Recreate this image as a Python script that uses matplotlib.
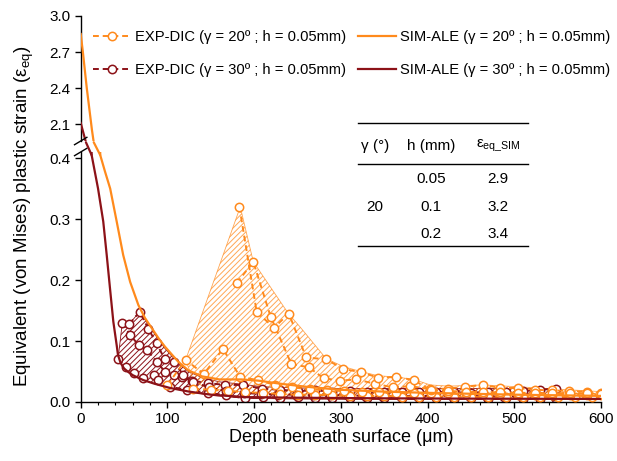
import matplotlib
matplotlib.use("Agg")
import matplotlib.pyplot as plt
from matplotlib.patches import ConnectionPatch
from matplotlib.lines import Line2D
from matplotlib.ticker import MultipleLocator

# ── Colours ───────────────────────────────────────────────────────
ORANGE  = "#FF8A1C"
DARKRED = "#8C1218"

# ── Data ──────────────────────────────────────────────────────────
# SIM-ALE curves (same arrays drawn in both halves of the broken axis)
sim20_x = [0, 2.5, 7, 13, 15, 22.5, 28, 34, 41.5, 49, 57, 66.5, 74, 82, 90, 97,
           105, 112.5, 124, 140, 160, 185, 205, 230, 260, 300, 350, 400, 500, 600]
sim20_y = [2.85, 2.70, 2.40, 2.05, 1.95, 0.405, 0.378, 0.350, 0.296, 0.241, 0.197,
           0.159, 0.138, 0.121, 0.104, 0.091, 0.078, 0.066, 0.052, 0.042, 0.037,
           0.037, 0.035, 0.030, 0.025, 0.020, 0.017, 0.015, 0.012, 0.010]

sim30_x = [0, 3, 6, 12.6, 20, 26, 30, 33.8, 37.6, 41.5, 43, 46, 50, 55, 60, 72, 85,
           103, 125, 150, 190, 250, 350, 450, 600]
sim30_y = [2.11, 2.03, 1.95, 0.405, 0.350, 0.296, 0.241, 0.186, 0.132, 0.093,
           0.077, 0.064, 0.055, 0.049, 0.044, 0.036, 0.030, 0.023, 0.017, 0.012,
           0.008, 0.007, 0.006, 0.0055, 0.005]

# EXP-DIC profiles, gamma = 20
exp20_a_x = [100, 121, 142, 164, 184, 204, 224, 244, 264, 284, 304, 324, 344, 364,
             384, 404, 424, 444, 464, 484, 504, 524, 544, 564, 584, 600]
exp20_a_y = [0.028, 0.069, 0.046, 0.087, 0.041, 0.036, 0.028, 0.024, 0.021, 0.019,
             0.018, 0.017, 0.016, 0.015, 0.015, 0.014, 0.014, 0.013, 0.013, 0.013,
             0.012, 0.012, 0.012, 0.011, 0.011, 0.011]
exp20_b_x = [180, 199, 219, 243, 263, 280, 299, 318, 339, 360, 380, 403, 424, 443,
             464, 484, 504, 524, 544, 563, 584, 600]
exp20_b_y = [0.195, 0.230, 0.140, 0.062, 0.057, 0.039, 0.035, 0.037, 0.030, 0.024,
             0.026, 0.021, 0.022, 0.025, 0.028, 0.023, 0.023, 0.020, 0.019, 0.018,
             0.017, 0.015]
exp20_c_x = [183, 203, 223, 240, 260, 283, 303, 323, 343, 364, 384, 404, 424, 444,
             464, 484, 504, 524, 544, 564, 584, 600]
exp20_c_y = [0.320, 0.147, 0.122, 0.145, 0.073, 0.070, 0.054, 0.049, 0.040, 0.041,
             0.036, 0.019, 0.018, 0.017, 0.016, 0.016, 0.015, 0.015, 0.014, 0.015,
             0.014, 0.013]
exp20_d_x = [130, 150, 170, 190, 210, 230, 250, 270, 290, 310, 330, 350, 370, 390,
             410, 430, 450, 470, 490, 510, 530, 550, 570, 590]
exp20_d_y = [0.022, 0.020, 0.018, 0.016, 0.015, 0.013, 0.012, 0.012, 0.011, 0.010,
             0.010, 0.010, 0.009, 0.009, 0.009, 0.009, 0.008, 0.008, 0.008, 0.008,
             0.008, 0.008, 0.008, 0.008]

# EXP-DIC profiles, gamma = 30
exp30_a_x = [43, 52, 62, 72, 84.6, 89.5, 103, 122, 147, 168, 189.5, 210, 230, 250,
             270, 290, 310, 330, 350, 370, 390, 410, 430, 450, 470, 490, 510, 530, 548]
exp30_a_y = [0.070, 0.058, 0.047, 0.040, 0.044, 0.036, 0.025, 0.020, 0.015, 0.011,
             0.006, 0.008, 0.007, 0.008, 0.006, 0.007, 0.006, 0.007, 0.006, 0.006,
             0.006, 0.006, 0.005, 0.006, 0.005, 0.006, 0.005, 0.005, 0.005]
exp30_b_x = [48, 57, 67, 77, 87.5, 97, 107.6, 116.5, 128, 147, 166, 186.6, 208.8,
             230, 250, 270, 290, 310, 330, 350, 370, 390, 410, 430, 450, 470, 490,
             510, 530, 548]
exp30_b_y = [0.130, 0.110, 0.093, 0.085, 0.066, 0.050, 0.044, 0.041, 0.035, 0.031,
             0.028, 0.028, 0.022, 0.020, 0.018, 0.019, 0.017, 0.018, 0.016, 0.017,
             0.016, 0.017, 0.016, 0.016, 0.015, 0.017, 0.016, 0.018, 0.020, 0.022]
exp30_c_x = [56, 68, 78, 87.5, 97, 107.6, 118, 130, 148, 168, 188, 208, 228, 248,
             268, 288, 308, 328, 348, 368, 388, 408, 428, 448, 468, 488, 508, 528, 546]
exp30_c_y = [0.128, 0.148, 0.120, 0.096, 0.070, 0.066, 0.045, 0.033, 0.024, 0.018,
             0.015, 0.013, 0.012, 0.012, 0.011, 0.011, 0.011, 0.010, 0.010, 0.010,
             0.010, 0.010, 0.010, 0.010, 0.009, 0.009, 0.010, 0.010, 0.010]

# scatter envelopes (hatched bands)
env20_up_x = [121, 184, 199, 239.5, 253, 283, 303, 323, 343, 364, 384, 403, 424,
              464, 504, 563, 600]
env20_up_y = [0.069, 0.320, 0.230, 0.145, 0.123, 0.071, 0.058, 0.050, 0.043, 0.041,
              0.037, 0.028, 0.026, 0.028, 0.025, 0.020, 0.017]
env20_lo_x = [121, 130, 142, 160, 200, 250, 300, 400, 500, 600]
env20_lo_y = [0.069, 0.035, 0.025, 0.020, 0.015, 0.012, 0.010, 0.009, 0.008, 0.008]

env30_up_x = [43, 48, 56, 68, 82, 97, 112, 124, 140, 160, 187, 209, 250, 300, 400,
              500, 548]
env30_up_y = [0.070, 0.130, 0.128, 0.148, 0.118, 0.088, 0.064, 0.050, 0.040, 0.033,
              0.029, 0.025, 0.023, 0.022, 0.022, 0.022, 0.022]
env30_lo_x = [43, 50, 60, 72, 85, 103, 125, 150, 190, 250, 350, 450, 548]
env30_lo_y = [0.070, 0.055, 0.045, 0.036, 0.030, 0.023, 0.017, 0.011, 0.006, 0.005,
              0.004, 0.004, 0.004]

# inset table
tab_header = ["γ (°)", "h (mm)", r"ε$_{\mathrm{eq\_SIM}}$"]
tab_gamma  = "20"
tab_h      = ["0.05", "0.1", "0.2"]
tab_eps    = ["2.9", "3.2", "3.4"]

# ── Style ─────────────────────────────────────────────────────────
plt.rcParams.update({
    "font.family":       ["Liberation Sans", "DejaVu Sans"],
    "mathtext.fontset":  "custom",
    "mathtext.rm":       "Liberation Sans",
    "mathtext.it":       "Liberation Sans:italic",
    "hatch.linewidth":   0.7,
    "axes.linewidth":    1.0,
    "xtick.direction":   "out",
    "ytick.direction":   "out",
    "xtick.labelsize":   11,
    "ytick.labelsize":   11,
})

fig = plt.figure(figsize=(6.17, 4.61), dpi=100)
ax_top = fig.add_axes([0.1308, 0.6941, 0.8433, 0.2712])
ax_bot = fig.add_axes([0.1308, 0.1280, 0.8433, 0.5423])

exp_kw = dict(ls=(0, (3, 2)), lw=1.4, marker="o", ms=6, mfc="white", mew=1.1)

# hatched envelopes
ax_bot.fill(env30_up_x + env30_lo_x[::-1], env30_up_y + env30_lo_y[::-1],
            facecolor="none", edgecolor=DARKRED, lw=0.6, hatch="//////", zorder=1)
ax_bot.fill(env20_up_x + env20_lo_x[::-1], env20_up_y + env20_lo_y[::-1],
            facecolor="none", edgecolor=ORANGE, lw=0.6, hatch="//////", alpha=0.75,
            zorder=1)

for xs, ys in [(exp30_a_x, exp30_a_y), (exp30_b_x, exp30_b_y), (exp30_c_x, exp30_c_y)]:
    ax_bot.plot(xs, ys, color=DARKRED, zorder=2, **exp_kw)
for xs, ys in [(exp20_d_x, exp20_d_y), (exp20_a_x, exp20_a_y),
               (exp20_b_x, exp20_b_y), (exp20_c_x, exp20_c_y)]:
    ax_bot.plot(xs, ys, color=ORANGE, zorder=3, **exp_kw)

# SIM curves on both halves + a joining segment across the gap
for xs, ys, col in [(sim20_x, sim20_y, ORANGE), (sim30_x, sim30_y, DARKRED)]:
    for a in (ax_top, ax_bot):
        a.plot(xs, ys, color=col, lw=1.6, zorder=4)
    k = next(i for i in range(len(ys) - 1) if ys[i] > 1 > ys[i + 1])
    con = ConnectionPatch(xyA=(xs[k], ys[k]), coordsA=ax_top.transData,
                          xyB=(xs[k + 1], ys[k + 1]), coordsB=ax_bot.transData,
                          color=col, lw=1.6, zorder=4)
    fig.add_artist(con)

# ── Axes cosmetics ────────────────────────────────────────────────
ax_top.set_xlim(0, 600)
ax_top.set_ylim(1.96, 3.0)
ax_top.set_yticks([2.1, 2.4, 2.7, 3.0])
ax_top.set_xticks([])
for s in ("top", "right", "bottom"):
    ax_top.spines[s].set_visible(False)
ax_top.patch.set_alpha(0)

ax_bot.set_xlim(0, 600)
ax_bot.set_ylim(0, 0.41)
ax_bot.set_yticks([0.0, 0.1, 0.2, 0.3, 0.4])
ax_bot.xaxis.set_major_locator(MultipleLocator(100))
ax_bot.xaxis.set_minor_locator(MultipleLocator(20))
for s in ("top", "right"):
    ax_bot.spines[s].set_visible(False)
ax_bot.patch.set_alpha(0)

for a in (ax_top, ax_bot):
    a.tick_params(which="major", length=4.5, width=1.0, pad=3)
    a.tick_params(which="minor", length=2.5, width=0.8)
    a.yaxis.set_major_formatter(matplotlib.ticker.FormatStrFormatter("%.1f"))

ax_bot.set_xlabel("Depth beneath surface (μm)", fontsize=13, labelpad=2)
fig.text(0.040, 0.530, r"Equivalent (von Mises) plastic strain (ε$_{\mathrm{eq}}$)",
         rotation=90, ha="center", va="center", fontsize=13.5)

# break marks on the left spine
x0 = 0.1308
for yb in (0.6941, 0.6703):
    fig.add_artist(Line2D([x0 - 0.010, x0 + 0.010], [yb - 0.008, yb + 0.008],
                          color="black", lw=1.0))

# ── Legend ────────────────────────────────────────────────────────
handles = [
    Line2D([], [], color=ORANGE, **exp_kw),
    Line2D([], [], color=DARKRED, **exp_kw),
    Line2D([], [], color=ORANGE, lw=1.6),
    Line2D([], [], color=DARKRED, lw=1.6),
]
labels = [
    "EXP-DIC (γ = 20º ; h = 0.05mm)",
    "EXP-DIC (γ = 30º ; h = 0.05mm)",
    "SIM-ALE (γ = 20º ; h = 0.05mm)",
    "SIM-ALE (γ = 30º ; h = 0.05mm)",
]
fig.legend(handles, labels, ncol=2, loc="upper left", bbox_to_anchor=(0.150, 0.935),
           frameon=False, fontsize=10.6, handlelength=2.6, handletextpad=0.25,
           columnspacing=0.85, labelspacing=1.3, borderpad=0, borderaxespad=0,
           numpoints=1)

# ── Inset table ───────────────────────────────────────────────────
tx0, tx1 = 358 / 617, 528 / 617
for py in (123, 164, 246):
    yy = 1 - py / 461
    fig.add_artist(Line2D([tx0, tx1], [yy, yy], color="black", lw=1.0))

col_x = [375 / 617, 431 / 617, 498 / 617]
hy = 1 - 146 / 461
for cx, txt in zip(col_x, tab_header):
    fig.text(cx, hy, txt, ha="center", va="center", fontsize=11)
row_y = [1 - 179 / 461, 1 - 207 / 461, 1 - 234 / 461]
fig.text(col_x[0], row_y[1], tab_gamma, ha="center", va="center", fontsize=11)
for ry, h, e in zip(row_y, tab_h, tab_eps):
    fig.text(col_x[1], ry, h, ha="center", va="center", fontsize=11)
    fig.text(col_x[2], ry, e, ha="center", va="center", fontsize=11)

fig.savefig("out.png", dpi=100)
